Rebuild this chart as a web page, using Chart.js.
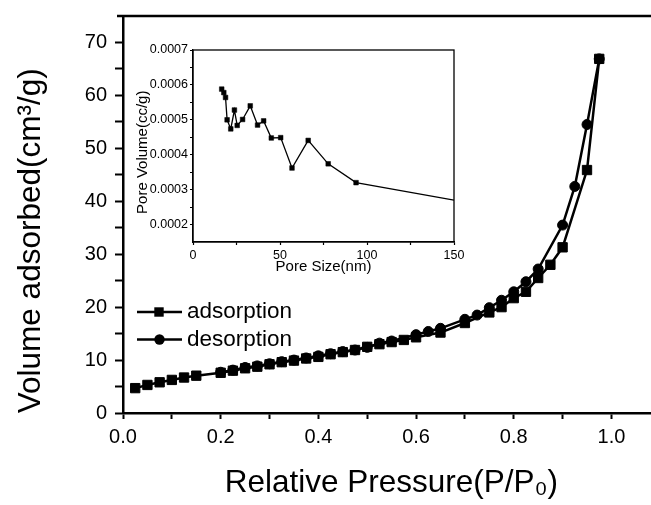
<!DOCTYPE html>
<html><head><meta charset="utf-8">
<script src="https://cdn.jsdelivr.net/npm/chart.js@4.4.1/dist/chart.umd.min.js"></script>
<style>
html,body{margin:0;padding:0;background:#fff;}
#wrap{position:relative;width:651px;height:505px;overflow:hidden;}
#main{position:absolute;left:0;top:0;}
#inset{position:absolute;left:130px;top:40px;}
</style></head><body>
<div id="wrap">
<canvas id="main" width="651" height="505"></canvas>
<canvas id="inset" width="350" height="240"></canvas>
</div>
<script>
// Main isotherm data
const adsP = [0.025,0.05,0.075,0.1,0.125,0.15,0.2,0.225,0.25,0.275,0.3,0.325,0.35,0.375,0.4,0.425,0.45,0.475,0.5,0.525,0.55,0.575,0.6,0.65,0.7,0.75,0.775,0.8,0.825,0.85,0.875,0.9,0.95,0.975];
const adsV = [4.7,5.3,5.8,6.25,6.7,7.05,7.6,8.0,8.45,8.75,9.2,9.6,9.9,10.3,10.6,11.1,11.5,11.9,12.5,13.0,13.4,13.8,14.3,15.2,17.0,19.0,20.0,21.7,22.9,25.5,28.0,31.3,45.9,66.9];
const desP = [0.975,0.95,0.925,0.9,0.85,0.825,0.8,0.775,0.75,0.725,0.7,0.65,0.625,0.6,0.55,0.525,0.5,0.475,0.45,0.425,0.4,0.375,0.35,0.325,0.3,0.275,0.25,0.225,0.2];
const desV = [66.9,54.5,42.8,35.5,27.2,24.8,22.9,21.3,19.9,18.5,17.7,16.0,15.4,14.8,13.6,13.2,12.4,11.9,11.6,11.2,10.8,10.4,10.0,9.7,9.3,8.9,8.6,8.1,7.7];
const seriesNames = ['adsorption','desorption'];
const xMajor = [0,0.2,0.4,0.6,0.8,1.0];
const xMinor = [0.1,0.3,0.5,0.7,0.9];
const yMajor = [0,10,20,30,40,50,60,70];
const yMinor = [5,15,25,35,45,55,65];
// Inset pore size distribution
const poreSize = [16.5,17.7,18.7,19.6,21.7,23.8,25.4,28.5,32.9,37.1,40.6,45.0,50.4,56.9,66.2,77.7,93.7,150];
const poreVolume = [0.000588,0.000578,0.000564,0.0005,0.000474,0.000528,0.000484,0.000501,0.00054,0.000485,0.000497,0.000448,0.000449,0.000362,0.000441,0.000374,0.00032,0.00027];
const insetXMajor = [0,50,100,150];
const insetXMinor = [25,75,125];
const insetYMajor = [0.0002,0.0003,0.0004,0.0005,0.0006,0.0007];
const insetYMinor = [0.00025,0.00035,0.00045,0.00055,0.00065];

Chart.defaults.color = '#000';
Chart.defaults.font.family = "'Liberation Sans', Arial, sans-serif";
const isIn = (arr, v) => arr.some(a => Math.abs(a - v) < 1e-9);
const toPts = (xs, ys) => xs.map((x, i) => ({x: x, y: ys[i]}));
const tickList = (a, b) => a.concat(b).sort((p, q) => p - q).map(v => ({value: v}));
const noPad = s => { s.paddingLeft = 0; s.paddingRight = 0; s.paddingTop = 0; s.paddingBottom = 0; };
const sp = n => '\u00A0'.repeat(n);

const mainDeco = {
  id: 'mainDeco',
  afterDraw(chart) {
    const ctx = chart.ctx, ca = chart.chartArea;
    ctx.save();
    ctx.strokeStyle = '#000';
    ctx.lineWidth = 2.5;
    ctx.beginPath();
    ctx.moveTo(ca.left - 6, ca.top);
    ctx.lineTo(ca.right, ca.top);
    ctx.stroke();
    // legend
    chart.data.datasets.forEach((ds, i) => {
      const y = 312 + i * 27.5;
      ctx.lineWidth = 2.5;
      ctx.beginPath(); ctx.moveTo(137, y); ctx.lineTo(182, y); ctx.stroke();
      ctx.fillStyle = '#000';
      if (ds.pointStyle === 'rect') {
        ctx.fillRect(159 - 4.7, y - 4.7, 9.4, 9.4);
      } else {
        ctx.beginPath(); ctx.arc(159.5, y, 5.2, 0, Math.PI * 2); ctx.fill();
      }
      ctx.font = "22.5px 'Liberation Sans', Arial, sans-serif";
      ctx.textBaseline = 'middle';
      ctx.textAlign = 'left';
      ctx.fillText(ds.label, 187, y);
    });
    ctx.restore();
  }
};

new Chart(document.getElementById('main'), {
  type: 'line',
  data: {
    datasets: [
      {label: seriesNames[0], data: toPts(adsP, adsV), pointStyle: 'rect', pointRadius: 6.6, pointBorderWidth: 1,
       borderColor: '#000', backgroundColor: '#000', borderWidth: 2.5, tension: 0},
      {label: seriesNames[1], data: toPts(desP, desV), pointStyle: 'circle', pointRadius: 5, pointBorderWidth: 1,
       borderColor: '#000', backgroundColor: '#000', borderWidth: 2.5, tension: 0}
    ]
  },
  options: {
    responsive: false, animation: false, devicePixelRatio: 1,
    layout: {autoPadding: false, padding: {top: 16, right: 0, left: 0, bottom: 0}},
    plugins: {legend: {display: false}, tooltip: {enabled: false}},
    scales: {
      x: {
        type: 'linear', min: 0, max: 1.081,
        afterBuildTicks: s => { s.ticks = tickList(xMajor, xMinor); },
        afterFit: s => { s.height = 92; noPad(s); },
        grid: {drawOnChartArea: false, drawTicks: true, tickLength: 6, tickWidth: 2, tickColor: '#000'},
        border: {display: true, color: '#000', width: 2.5},
        ticks: {autoSkip: false, maxRotation: 0, padding: 6, font: {size: 20},
                callback: v => isIn(xMajor, v) ? v.toFixed(1) : ''},
        title: {display: true, text: sp(1) + 'Relative Pressure(P/P\u2080)', font: {size: 31.5}, padding: {top: 0, bottom: 3}}
      },
      y: {
        type: 'linear', min: 0, max: 75,
        afterBuildTicks: s => { s.ticks = tickList(yMajor, yMinor); },
        afterFit: s => { s.width = 123; noPad(s); },
        grid: {drawOnChartArea: false, drawTicks: true, tickLength: 8, tickWidth: 2, tickColor: '#000'},
        border: {display: true, color: '#000', width: 2.5},
        ticks: {autoSkip: false, padding: 8, font: {size: 20},
                callback: v => isIn(yMajor, v) ? String(v) : ''},
        title: {display: true, text: 'Volume adsorbed(cm\u00B3/g)' + sp(6), font: {size: 31.5}, padding: {top: 12, bottom: 0}}
      }
    }
  },
  plugins: [mainDeco]
});

const insetBox = {
  id: 'insetBox',
  afterDraw(chart) {
    const ctx = chart.ctx, ca = chart.chartArea;
    ctx.save();
    ctx.strokeStyle = '#000';
    ctx.lineWidth = 1.3;
    ctx.strokeRect(ca.left, ca.top, ca.right - ca.left, ca.bottom - ca.top);
    ctx.restore();
  }
};

new Chart(document.getElementById('inset'), {
  type: 'line',
  data: {
    datasets: [
      {label: 'Pore Volume', data: toPts(poreSize, poreVolume), pointStyle: 'rect',
       pointRadius: poreSize.map((v, i) => i === poreSize.length - 1 ? 0 : 3.3), pointBorderWidth: 0.5,
       borderColor: '#000', backgroundColor: '#000', borderWidth: 1.3, tension: 0}
    ]
  },
  options: {
    responsive: false, animation: false, devicePixelRatio: 1,
    layout: {autoPadding: false, padding: {top: 10, right: 26, left: 0, bottom: 0}},
    plugins: {legend: {display: false}, tooltip: {enabled: false}},
    scales: {
      x: {
        type: 'linear', min: 0, max: 150,
        afterBuildTicks: s => { s.ticks = tickList(insetXMajor, insetXMinor); },
        afterFit: s => { s.height = 38; noPad(s); },
        grid: {drawOnChartArea: false, drawTicks: true, tickLength: 3, tickWidth: 1.2, tickColor: '#000'},
        border: {display: true, color: '#000', width: 1.3},
        ticks: {autoSkip: false, maxRotation: 0, padding: 3, font: {size: 12.5},
                callback: v => isIn(insetXMajor, v) ? String(v) : ''},
        title: {display: true, text: 'Pore Size(nm)', font: {size: 15}, padding: {top: 0, bottom: 4}}
      },
      y: {
        type: 'linear', min: 0.00015, max: 0.0007,
        afterBuildTicks: s => { s.ticks = tickList(insetYMajor, insetYMinor); },
        afterFit: s => { s.width = 63; noPad(s); },
        grid: {drawOnChartArea: false, drawTicks: true, tickLength: 3, tickWidth: 1.2, tickColor: '#000'},
        border: {display: true, color: '#000', width: 1.3},
        ticks: {autoSkip: false, padding: 2, font: {size: 12.5},
                callback: v => isIn(insetYMajor, v) ? v.toFixed(4) : ''},
        title: {display: true, text: 'Pore Volume(cc/g)' + sp(3), font: {size: 15}, padding: {top: 3.5, bottom: 0}}
      }
    }
  },
  plugins: [insetBox]
});
</script>
</body></html>
